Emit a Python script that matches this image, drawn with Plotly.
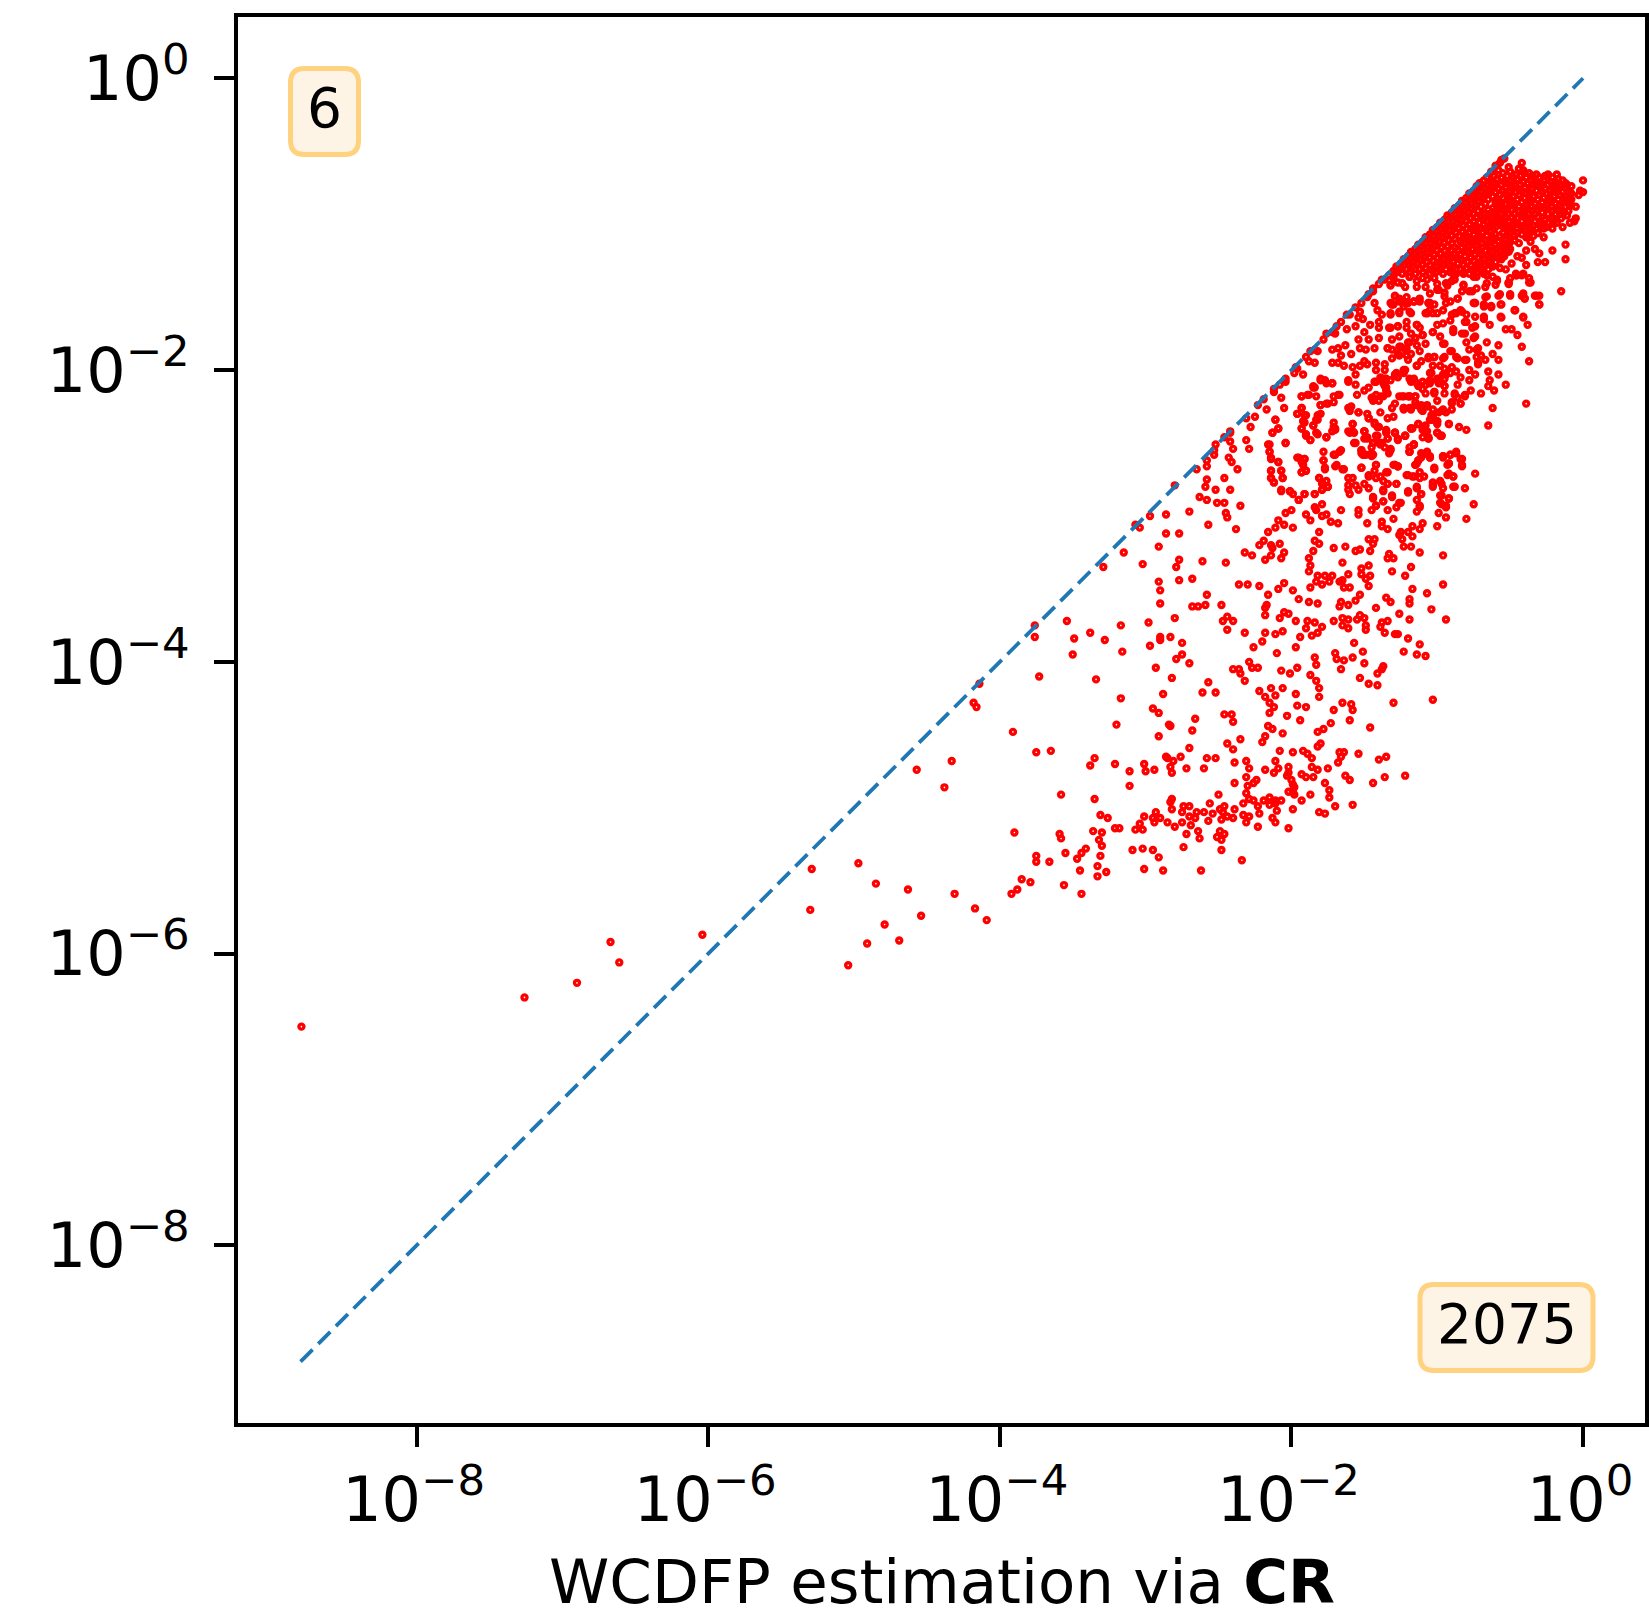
import plotly.graph_objects as go

# All point values are log10(x), log10(y).
left_tail = [(-8.79,-6.50),(-7.26,-6.30),(-6.90,-6.20),(-6.67,-5.92),(-6.61,-6.06),(-6.04,-5.87),
 (-5.29,-5.42),(-4.97,-5.38),(-4.85,-5.52),(-4.63,-5.56),(-4.31,-5.59),(-5.30,-5.70),(-4.54,-5.74),
 (-4.17,-5.69),(-4.09,-5.77),(-4.79,-5.80),(-4.91,-5.93),(-4.69,-5.91),(-5.04,-6.08),
 (-4.57,-4.74),(-4.33,-4.68),(-4.38,-4.86),(-4.14,-4.15),(-4.18,-4.28),(-4.16,-4.31)]

lower_band = [(-3.91,-4.48),(-3.75,-4.62),(-3.65,-4.61),(-3.35,-4.66),(-3.38,-4.71),(-3.21,-4.70),(-3.01,-4.70),
 (-3.00,-4.75),(-2.94,-4.74),(-3.11,-4.75),(-2.86,-4.65),(-2.85,-4.66),(-2.76,-4.65),(-2.58,-4.66),(-2.52,-4.66),(-2.83,-4.72),(-2.81,-4.68),
 (-2.82,-4.76),(-2.72,-4.73),(-2.60,-4.73),(-2.39,-4.69),(-2.31,-4.68),(-2.29,-4.73),(-2.11,-4.68),(-2.18,-4.74),
 (-2.12,-4.76),(-2.09,-4.73),(-2.02,-4.72),(-2.02,-4.76),(-2.03,-4.78),(-1.93,-4.77),(-1.90,-4.79),(-1.86,-4.72),
 (-1.82,-4.74),(-1.75,-4.73),(-1.85,-4.79),(-1.63,-4.78),(-1.60,-4.81),(-1.36,-4.79),(-1.22,-4.78),(-1.44,-4.83),
 (-2.31,-4.79),(-2.24,-4.81),(-2.39,-4.83),(-2.26,-4.83),(-2.30,-4.85),(-2.00,-4.81),(-1.99,-4.84),(-1.77,-4.83),
 (-1.74,-4.88),(-3.11,-4.85),(-3.58,-4.91),(-2.50,-4.91),(-2.31,-4.90),(-2.02,-4.89),(-1.98,-4.86),(-1.99,-4.89),
 (-1.87,-4.91),(-1.74,-4.93),(-3.35,-4.94),(-2.82,-4.94),(-2.83,-4.96),(-2.29,-4.94),(-2.26,-4.95),(-2.33,-4.97),
 (-2.19,-4.95),(-2.15,-4.93),(-2.11,-4.95),(-2.07,-4.95),(-1.98,-4.91),(-1.93,-4.95),(-2.56,-4.97),(-2.74,-4.99),
 (-2.70,-4.99),(-2.82,-5.01),(-2.60,-5.03),(-2.46,-4.99),(-2.49,-5.01),(-2.39,-5.01),(-2.23,-4.99),(-2.15,-4.98),
 (-2.11,-4.97),(-2.10,-5.02),(-1.99,-5.01),(-1.58,-4.98),(-1.70,-4.99),(-1.81,-5.03),(-1.77,-5.04),(-2.93,-5.03),
 (-3.01,-5.06),(-2.90,-5.07),(-2.95,-5.07),(-2.75,-5.03),(-2.65,-5.03),(-2.70,-5.06),(-2.66,-5.07),(-2.54,-5.04),
 (-2.47,-5.03),(-2.44,-5.06),(-2.40,-5.07),(-2.33,-5.05),(-2.29,-5.06),(-2.22,-5.04),(-3.31,-5.05),(-3.26,-5.07),
 (-2.75,-5.10),(-2.85,-5.10),(-2.94,-5.10),(-3.04,-5.11),(-2.57,-5.09),(-2.80,-5.13),(-2.69,-5.12),(-2.31,-5.10),
 (-2.13,-5.07),(-2.11,-5.10),(-2.48,-5.08),(-2.23,-5.13),(-2.02,-5.14),(-3.18,-5.14),(-3.21,-5.14),(-3.36,-5.16),
 (-3.30,-5.17),(-3.07,-5.15),(-3.02,-5.15),(-3.90,-5.17),(-3.59,-5.18),(-3.58,-5.21),(-2.64,-5.16),(-2.49,-5.16),
 (-2.46,-5.18),(-2.72,-5.18),(-2.63,-5.21),(-2.51,-5.20),(-2.48,-5.22),(-3.32,-5.22),(-3.30,-5.26),(-3.41,-5.28),
 (-3.44,-5.31),(-3.55,-5.31),(-3.47,-5.35),(-3.31,-5.33),(-3.09,-5.29),(-3.02,-5.28),(-2.95,-5.29),(-2.91,-5.34),
 (-2.74,-5.27),(-2.48,-5.29),(-2.34,-5.36),(-3.75,-5.33),(-3.75,-5.37),(-3.66,-5.37),(-3.33,-5.40),(-3.45,-5.43),
 (-3.27,-5.44),(-3.33,-5.47),(-3.01,-5.42),(-2.88,-5.43),(-2.62,-5.43),(-3.85,-5.49),(-3.79,-5.51),(-3.56,-5.53),
 (-3.88,-5.56),(-3.92,-5.59),(-3.44,-5.59)]

central_cloud = [(-2.58,-2.62),(-2.53,-2.58),(-2.43,-2.60),(-2.41,-2.63),(-2.37,-2.68),(-2.65,-2.68),(-2.58,-2.66),
 (-2.15,-2.56),(-2.14,-2.61),(-2.09,-2.63),(-1.96,-2.60),(-1.91,-2.61),(-1.93,-2.63),(-1.78,-2.62),(-1.71,-2.58),
 (-1.67,-2.56),(-1.77,-2.68),(-1.70,-2.66),(-1.65,-2.68),(-1.52,-2.67),(-1.42,-2.65),(-1.52,-2.57),(-1.49,-2.58),
 (-1.44,-2.58),(-1.33,-2.57),(-1.19,-2.56),(-1.07,-2.57),(-1.11,-2.60),(-1.05,-2.60),(-0.96,-2.60),(-0.91,-2.58),
 (-0.87,-2.57),(-0.83,-2.61),(-0.93,-2.65),(-0.83,-2.66),(-1.15,-2.65),(-1.30,-2.65),(-1.27,-2.66),(-1.34,-2.70),
 (-1.02,-2.68),(-1.13,-2.62),(-2.58,-2.75),(-2.46,-2.74),(-2.59,-2.80),(-2.52,-2.82),(-2.42,-2.82),(-2.80,-2.79),
 (-2.14,-2.69),(-2.07,-2.69),(-2.14,-2.74),(-2.06,-2.74),(-2.12,-2.77),(-2.07,-2.83),(-2.01,-2.83),(-1.99,-2.85),
 (-1.91,-2.85),(-1.84,-2.85),(-1.90,-2.69),(-1.93,-2.70),(-1.81,-2.74),(-1.79,-2.77),(-1.75,-2.80),(-1.79,-2.82),
 (-1.76,-2.76),(-1.61,-2.74),(-1.58,-2.74),(-1.61,-2.79),(-1.56,-2.79),(-1.60,-2.85),(-1.61,-2.82),(-1.54,-2.82),
 (-1.50,-2.78),(-1.47,-2.81),(-1.47,-2.73),(-1.42,-2.74),(-1.37,-2.76),(-1.34,-2.78),(-1.28,-2.78),(-1.37,-2.83),
 (-1.20,-2.84),(-1.21,-2.72),(-1.17,-2.73),(-1.12,-2.74),(-1.09,-2.73),(-1.14,-2.81),(-1.11,-2.85),(-1.03,-2.77),
 (-0.98,-2.76),(-1.03,-2.80),(-0.96,-2.81),(-0.93,-2.72),(-0.89,-2.73),(-0.88,-2.80),(-0.81,-2.81),(-0.74,-2.71),
 (-2.63,-2.87),(-2.58,-2.89),(-2.51,-2.91),(-2.46,-2.91),(-2.35,-2.93),(-2.70,-2.97),(-2.86,-2.99),(-2.97,-3.00),
 (-2.45,-2.98),(-2.44,-3.01),(-1.95,-2.89),(-1.84,-2.94),(-1.79,-2.92),(-1.83,-2.96),(-2.04,-2.98),(-2.00,-2.96),
 (-1.90,-2.99),(-1.79,-3.00),(-1.76,-2.99),(-1.66,-2.96),(-1.54,-2.96),(-1.54,-2.99),(-1.45,-2.96),(-1.44,-2.88),
 (-1.42,-2.93),(-1.37,-2.90),(-1.31,-2.87),(-1.34,-2.96),(-1.28,-2.94),(-1.25,-2.91),(-1.14,-2.89),(-1.12,-2.94),
 (-1.14,-2.97),(-0.97,-2.86),(-0.92,-2.88),(-0.97,-2.92),(-0.94,-2.94),(-0.99,-2.98),(-0.94,-3.01),(-0.75,-2.92),
 (-0.80,-3.02),(-3.07,-3.06),(-3.04,-3.08),(-2.57,-3.06),(-2.38,-3.09),(-2.09,-3.03),(-2.11,-3.08),(-2.05,-3.06),
 (-1.99,-3.08),(-2.16,-3.11),(-1.87,-3.03),(-1.73,-3.04),(-1.68,-3.05),(-1.48,-3.05),(-1.38,-3.04),(-1.38,-3.07),
 (-1.30,-3.02),(-1.34,-3.09),(-1.26,-3.13),(-1.25,-3.11),(-1.20,-3.11),(-1.17,-3.07),(-1.12,-3.09),(-1.10,-3.05),
 (-1.00,-3.07),(-1.17,-3.14),(-2.86,-3.12),(-2.77,-3.12),(-1.81,-3.11),(-2.19,-3.17),(-2.22,-3.20),(-2.14,-3.20),
 (-2.08,-3.19),(-2.13,-3.22),(-1.84,-3.17),(-1.81,-3.19),(-1.85,-3.24),(-1.71,-3.22),(-1.63,-3.21),(-1.56,-3.24),
 (-1.53,-3.23),(-1.46,-3.24),(-1.47,-3.16),(-1.43,-3.16),(-1.44,-3.19),(-1.24,-3.16),(-1.23,-3.21),(-1.18,-3.21),
 (-2.91,-3.21),(-3.15,-3.25),(-3.29,-3.35),(-3.02,-3.33),(-2.77,-3.30),(-2.79,-3.35),(-2.61,-3.31),(-2.45,-3.32),
 (-2.32,-3.25),(-2.27,-3.27),(-2.18,-3.30),(-2.14,-3.27),(-2.07,-3.29),(-2.05,-3.25),(-1.88,-3.29),(-1.87,-3.34),
 (-1.88,-3.38),(-1.65,-3.32),(-1.34,-3.29),(-1.33,-3.26),(-1.30,-3.29),(-1.12,-3.25),(-0.96,-3.27),(-1.52,-3.36),
 (-1.47,-3.34),(-1.52,-3.40),(-1.49,-3.43),(-1.46,-3.41),(-1.31,-3.38),(-1.22,-3.41),(-1.18,-3.35),(-1.82,-3.41),
 (-1.77,-3.41),(-1.72,-3.41),(-1.61,-3.40),(-1.83,-3.45),(-1.74,-3.45),(-1.67,-3.45),(-1.65,-3.44),(-2.91,-3.45),
 (-2.77,-3.44),(-2.68,-3.43),(-2.90,-3.51),(-2.90,-3.60),(-2.58,-3.54),(-2.36,-3.47),(-2.30,-3.47),(-2.22,-3.48),
 (-2.09,-3.50),(-2.05,-3.46),(-1.99,-3.51),(-2.16,-3.54),(-1.95,-3.57),(-1.88,-3.59),(-1.82,-3.60),(-1.79,-3.47),
 (-1.87,-3.49),(-1.64,-3.49),(-1.60,-3.49),(-1.47,-3.48),(-1.17,-3.50),(-0.96,-3.47),(-1.07,-3.53),(-1.35,-3.56),
 (-1.32,-3.59),(-1.19,-3.57),(-1.19,-3.60),(-1.53,-3.54),(-1.56,-3.58),(-1.66,-3.59),(-1.61,-3.61),(-1.67,-3.62),
 (-2.48,-3.61),(-2.68,-3.62),(-2.64,-3.62),(-2.59,-3.61),(-2.17,-3.61),(-2.18,-3.63),(-1.42,-3.63),(-1.04,-3.64),
 (-2.05,-3.66),(-2.02,-3.67),(-2.18,-3.68),(-2.08,-3.70),(-1.53,-3.68),(-1.50,-3.70),(-1.65,-3.70),(-1.61,-3.71),
 (-1.26,-3.67),(-1.19,-3.71),(-0.94,-3.71),(-2.80,-3.70),(-2.98,-3.73),(-3.54,-3.72),(-3.76,-3.75),(-2.47,-3.72),
 (-2.44,-3.69),(-2.40,-3.72),(-1.97,-3.72),(-1.89,-3.72),(-1.84,-3.73),(-1.71,-3.72),(-1.55,-3.71),(-1.34,-3.72),
 (-3.17,-3.75),(-3.76,-3.83),(-3.49,-3.84),(-3.38,-3.80),(-3.28,-3.85),(-2.90,-3.83),(-2.90,-3.85),(-2.83,-3.83),
 (-2.75,-3.87),(-2.97,-3.89),(-3.16,-3.93),(-3.50,-3.95),(-2.32,-3.80),(-2.44,-3.78),(-2.18,-3.80),(-2.11,-3.81),
 (-2.06,-3.79),(-1.90,-3.77),(-1.79,-3.76),(-1.82,-3.80),(-1.86,-3.82),(-1.94,-3.83),(-1.65,-3.75),(-1.61,-3.77),
 (-1.49,-3.75),(-1.49,-3.78),(-1.38,-3.73),(-1.39,-3.76),(-1.36,-3.80),(-1.29,-3.81),(-1.27,-3.81),(-1.20,-3.84),
 (-1.12,-3.88),(-2.20,-3.86),(-2.26,-3.90),(-2.10,-3.94),(-1.97,-3.90),(-1.57,-3.87),(-1.51,-3.93),(-1.70,-3.94),
 (-1.23,-3.93),(-1.14,-3.95),(-1.08,-3.96),(-2.75,-3.95),(-2.79,-3.98),(-2.93,-4.04),(-2.70,-4.01),(-3.73,-4.10),
 (-3.34,-4.12),(-2.82,-4.11),(-2.40,-4.05),(-2.36,-4.05),(-2.35,-4.08),(-2.32,-4.13),(-2.29,-4.00),(-2.27,-4.04),
 (-2.23,-4.04),(-2.07,-4.06),(-2.01,-4.08),(-1.96,-4.04),(-1.84,-3.97),(-1.83,-4.02),(-1.87,-4.09),(-1.83,-4.13),
 (-1.81,-4.18),(-1.69,-3.98),(-1.64,-3.99),(-1.58,-3.97),(-1.66,-4.05),(-1.50,-4.01),(-1.37,-4.03),(-1.38,-4.05),
 (-1.41,-4.08),(-1.53,-4.11),(-1.47,-4.15),(-1.41,-4.16),(-2.57,-4.14),(-2.61,-4.21),(-2.52,-4.21),(-2.88,-4.22),
 (-2.22,-4.20),(-2.14,-4.18),(-2.06,-4.18),(-1.97,-4.22),(-2.18,-4.24),(-2.11,-4.23),(-1.81,-4.24),(-3.17,-4.25),
 (-2.15,-4.28),(-2.12,-4.31),(-2.15,-4.35),(-1.96,-4.30),(-1.90,-4.31),(-1.65,-4.28),(-1.59,-4.29),(-1.58,-4.33),
 (-1.71,-4.33),(-1.30,-4.28),(-1.03,-4.26),(-2.95,-4.32),(-2.91,-4.35),(-2.46,-4.36),(-2.41,-4.36),(-2.40,-4.41),
 (-2.03,-4.37),(-1.94,-4.40),(-2.66,-4.39),(-2.84,-4.43),(-2.83,-4.44),(-3.20,-4.43),(-2.91,-4.51),(-2.68,-4.47),
 (-1.60,-4.40),(-1.73,-4.42),(-1.78,-4.46),(-1.82,-4.48),(-1.46,-4.45),(-2.16,-4.44),(-2.13,-4.46),(-2.06,-4.49),
 (-2.18,-4.51),(-2.20,-4.55),(-2.35,-4.53),(-2.44,-4.56),(-2.40,-4.60),(-2.70,-4.59),(-1.80,-4.56),(-1.82,-4.58),
 (-2.08,-4.61),(-1.99,-4.62),(-1.92,-4.61),(-1.89,-4.63),(-1.86,-4.66),(-1.67,-4.62),(-1.64,-4.62),(-1.54,-4.63),
 (-1.66,-4.65),(-1.68,-4.69),(-1.35,-4.65),(-1.40,-4.67)]

upper_cloud = [(-2.42,-2.42),(-2.46,-2.46),(-2.42,-2.49),(-2.52,-2.51),(-2.40,-2.54),(-2.31,-2.48),(-2.29,-2.54),
 (-2.16,-2.51),(-2.04,-2.50),(-2.28,-2.39),(-2.25,-2.32),(-2.17,-2.27),(-2.07,-2.19),(-2.05,-2.26),(-2.11,-2.34),
 (-2.09,-2.40),(-2.13,-2.43),(-2.23,-2.24),(-2.12,-2.15),(-2.08,-2.10),(-2.04,-2.08),(-1.93,-2.18),(-1.89,-2.17),
 (-1.83,-2.18),(-1.80,-2.24),(-1.76,-2.23),(-1.71,-2.18),(-1.67,-2.17),(-1.93,-2.26),(-1.96,-2.30),(-1.91,-2.31),
 (-1.91,-2.36),(-1.93,-2.40),(-1.85,-2.38),(-1.82,-2.34),(-1.80,-2.30),(-1.90,-2.44),(-1.87,-2.48),(-1.83,-2.43),
 (-1.76,-2.46),(-1.71,-2.36),(-1.70,-2.40),(-1.72,-2.42),(-1.60,-2.43),(-1.58,-2.37),(-1.57,-2.43),(-1.50,-2.42),
 (-1.48,-2.47),(-1.57,-2.50),(-1.59,-2.25),(-1.60,-2.28),(-1.54,-2.29),(-1.48,-2.30),(-1.47,-2.33),(-1.43,-2.36),
 (-1.41,-2.39),(-1.41,-2.45),(-1.35,-2.43),(-1.34,-2.47),(-1.29,-2.43),(-1.27,-2.47),(-1.22,-2.45),(-1.18,-2.40),
 (-1.13,-2.37),(-1.08,-2.38),(-1.08,-2.43),(-1.06,-2.47),(-1.00,-2.43),(-0.97,-2.45),(-0.92,-2.37),(-0.85,-2.39),
 (-0.80,-2.41),(-0.65,-2.38),(-1.44,-2.50),(-1.39,-2.51),(-1.16,-2.51),(-1.39,-2.29),(-1.34,-2.33),(-1.30,-2.32),
 (-1.04,-2.34),(-1.00,-2.35),(-1.03,-2.31),(-1.03,-2.27),(-1.10,-2.28),(-1.18,-2.27),(-1.23,-2.27),(-1.31,-2.26),
 (-1.29,-2.23),(-1.23,-2.18),(-1.19,-2.18),(-1.15,-2.18),(-1.14,-2.24),(-1.07,-2.25),(-1.02,-2.16),(-0.95,-2.16),
 (-0.96,-2.28),(-0.90,-2.27),(-0.90,-2.22),(-0.84,-2.23),(-0.88,-2.16),(-0.86,-2.19),(-0.81,-2.17),(-0.77,-2.14),
 (-0.70,-2.16),(-0.62,-2.26),(-0.39,-2.23),(-1.72,-1.86),(-1.68,-1.85),(-1.63,-1.83),(-1.59,-1.89),(-1.66,-1.90),
 (-1.53,-1.85),(-1.49,-1.86),(-1.54,-1.79),(-1.47,-1.79),(-1.43,-1.85),(-1.40,-1.78),(-1.72,-1.95),(-1.68,-1.95),
 (-1.64,-1.97),(-1.58,-1.98),(-1.53,-1.97),(-1.50,-1.94),(-1.48,-1.96),(-1.42,-1.95),(-1.36,-1.96),(-1.42,-2.00),
 (-1.36,-2.00),(-1.56,-2.03),(-1.61,-2.07),(-1.56,-2.10),(-1.47,-2.12),(-1.50,-2.14),(-1.55,-2.17),(-1.45,-2.19),
 (-1.42,-2.17),(-1.36,-2.09),(-1.35,-2.12),(-1.43,-2.08),(-1.39,-2.05),(-1.36,-2.06),(-1.29,-2.04),(-1.27,-2.05),
 (-1.23,-2.02),(-1.22,-2.00),(-1.16,-2.06),(-1.08,-2.10),(-1.18,-2.08),(-1.04,-2.02),(-0.99,-2.06),(-0.95,-2.06),
 (-0.95,-2.11),(-1.02,-2.15),(-0.86,-2.10),(-0.84,-2.05),(-0.78,-2.00),(-0.74,-2.03),(-0.78,-2.07),(-0.65,-2.01),
 (-0.64,-2.07),(-0.58,-2.03),(-0.65,-2.11),(-0.61,-2.14),(-0.53,-2.10),(-0.58,-1.93),(-0.62,-1.89),(-0.67,-1.93),
 (-0.72,-1.96),(-0.73,-1.91),(-0.78,-1.86),(-0.72,-1.85),(-0.66,-1.81),(-0.58,-1.83),(-0.42,-1.84),(-0.37,-1.94),
 (-0.75,-1.78),(-1.31,-1.92),(-1.25,-1.84),(-1.21,-1.90),(-1.26,-1.90),(-1.20,-1.93),(-1.14,-1.97),(-1.06,-1.92),
 (-1.02,-1.91),(-0.95,-1.91),(-0.90,-1.87),(-0.86,-1.92),(-0.80,-1.93),(-1.34,-1.85),(-1.31,-1.79),(-1.21,-1.85),
 (-1.19,-1.81),(-1.15,-1.78),(-1.10,-1.76),(-1.03,-1.74),(-0.96,-1.82),(-0.89,-1.72),(-0.81,-1.75),(-1.32,-1.54),
 (-1.29,-1.49),(-1.21,-1.50),(-1.31,-1.55),(-1.16,-1.53),(-1.12,-1.51),(-1.06,-1.54),(-1.00,-1.45),(-0.95,-1.47),
 (-0.86,-1.51),(-0.74,-1.54),(-0.68,-1.55),(-0.63,-1.56),(-0.56,-1.55),(-0.47,-1.59),(-0.41,-1.64),(-0.38,-1.69),
 (-0.56,-1.64),(-0.53,-1.72),(-0.49,-1.72),(-0.45,-1.76),(-0.30,-1.55),(-0.32,-1.49),(-0.42,-1.49),(-0.50,-1.49),
 (-0.58,-1.49),(-0.67,-1.50),(-0.83,-1.46),(-1.53,-1.60),(-1.51,-1.65),(-1.54,-1.64),(-1.43,-1.54),(-1.41,-1.59),
 (-1.38,-1.62),(-1.46,-1.69),(-1.40,-1.67),(-1.40,-1.71),(-1.33,-1.71),(-1.27,-1.70),(-1.21,-1.67),(-1.32,-1.62),
 (-1.26,-1.61),(-1.19,-1.60),(-1.07,-1.61),(-1.00,-1.61),(-0.90,-1.62),(-0.83,-1.60),(-0.80,-1.67),(-0.74,-1.70),
 (-0.68,-1.65),(-0.64,-1.69),(-1.14,-1.69),(-1.50,-1.74),(-1.56,-1.70),(-1.62,-1.72),(-1.69,-1.70),(-1.76,-1.75),
 (-1.70,-1.75),(-1.26,-1.77),(-0.15,-1.46),(-0.40,-1.51),(-1.32,-1.42),(-1.27,-1.40),(-1.22,-1.43),(-1.14,-1.43),
 (-1.07,-1.38),(-1.00,-1.41),(-0.93,-1.42),(-0.88,-1.38),(-0.82,-1.42),(-0.76,-1.46),(-0.67,-1.43),(-0.59,-1.39),
 (-0.51,-1.41),(-0.46,-1.35),(-0.42,-1.35),(-0.37,-1.40),(-1.38,-1.38),(-1.44,-1.44),(-1.48,-1.50),(-1.19,-1.36),
 (-1.30,-1.35),(-0.62,-1.36),(-0.73,-1.36),(-1.62,-1.62),(-1.87,-1.87),(-1.82,-1.87),(-1.96,-1.99),(-1.92,-2.03),
 (-1.88,-1.94),(-1.84,-1.95),(-1.85,-2.11),(-1.84,-2.12),(-1.80,-2.07),(-1.77,-2.07),(-1.72,-2.09),(-1.98,-2.02)]

mid_detail = [(-1.14,-1.69),(-1.12,-1.71),(-1.18,-1.75),(-1.21,-1.71),(-1.27,-1.70),(-1.32,-1.71),(-1.15,-1.78),(-1.10,-1.76),
 (-1.20,-1.81),(-1.14,-1.83),(-1.08,-1.82),(-1.22,-1.86),(-1.18,-1.89),(-1.12,-1.87),(-1.27,-1.89),(-1.31,-1.86),(-1.34,-1.85),
 (-1.26,-1.84),(-1.03,-1.74),(-0.98,-1.77),(-0.95,-1.82),(-0.89,-1.74),(-1.00,-1.69),(-0.96,-1.68),(-0.91,-1.66),(-1.03,-1.61),
 (-1.07,-1.61),(-0.96,-1.59),(-0.87,-1.61),(-0.81,-1.67),(-0.76,-1.71),(-0.83,-1.75),(-0.80,-1.81),(-0.74,-1.77),(-0.73,-1.86),
 (-0.70,-1.90),(-0.72,-1.95),(-0.87,-1.91),(-0.81,-1.93),(-0.91,-1.87),(-0.96,-1.92),(-1.02,-1.91),(-1.06,-1.91),(-1.11,-1.94),
 (-1.14,-1.97),(-1.03,-1.97),(-0.95,-1.99),(-0.90,-1.98),(-0.87,-2.01),(-0.98,-1.97),(-1.05,-2.02),(-1.00,-2.07),(-0.94,-2.03),
 (-0.95,-2.11),(-0.99,-2.09),(-1.05,-2.07),(-1.10,-2.08),(-1.13,-2.11),(-1.18,-2.07),(-1.23,-2.01),(-1.29,-2.03),(-1.35,-2.06),
 (-1.38,-2.06),(-1.42,-2.08),(-1.36,-2.11),(-1.34,-2.16),(-1.37,-2.18),(-1.40,-2.21),(-1.44,-2.19),(-1.24,-2.18),(-1.19,-2.18),
 (-1.15,-2.18),(-1.08,-2.16),(-1.02,-2.15),(-1.00,-2.21),(-0.88,-2.17),(-0.81,-2.18),(-0.90,-2.23),(-0.84,-2.23),(-1.23,-2.26),
 (-1.18,-2.26),(-1.12,-2.25),(-1.07,-2.24),(-0.97,-2.28),(-0.94,-2.29),(-1.03,-2.31),(-1.05,-2.34),(-1.00,-2.35),(-1.13,-2.37),
 (-1.10,-2.39),(-1.07,-2.42),(-1.10,-2.46),(-1.06,-2.47),(-1.00,-2.43),(-0.97,-2.45),(-1.18,-2.40),(-1.22,-2.45),(-1.29,-2.43),
 (-1.27,-2.48),(-1.35,-2.42),(-1.34,-2.47),(-1.38,-2.50),(-1.44,-2.50),(-1.42,-2.45),(-1.32,-2.54),(-1.50,-2.42),(-1.48,-2.46),
 (-1.52,-2.55),(-1.51,-2.58),(-1.45,-2.57),(-1.16,-2.51),(-1.19,-2.56),(-1.11,-2.57),(-1.07,-2.56),(-1.05,-2.60),(-0.96,-2.59),
 (-0.91,-2.58),(-0.87,-2.56),(-0.83,-2.65),(-1.13,-2.62),(-1.15,-2.65),(-0.92,-2.64),(-0.84,-2.61),(-1.29,-2.65),(-1.27,-2.66),
 (-1.42,-2.65),(-1.52,-2.67),(-1.31,-1.55),(-1.26,-1.53),(-1.20,-1.54),(-1.12,-1.53),(-1.05,-1.54),(-0.94,-1.54),(-0.75,-1.54),
 (-0.63,-1.57),(-1.44,-2.21),(-1.39,-2.18),(-1.35,-2.14),(-1.37,-2.09),(-1.32,-2.07),(-1.28,-2.02),(-1.23,-2.00),(-1.19,-2.06),
 (-1.14,-2.09),(-1.10,-2.13),(-1.05,-2.09),(-1.00,-2.06),(-0.96,-2.03),(-0.91,-2.02),(-1.26,-2.18),(-1.20,-2.18),(-1.15,-2.22),
 (-1.11,-2.24),(-1.23,-2.26),(-1.19,-2.26),(-1.11,-2.27),(-1.04,-2.31),(-0.99,-2.29),(-0.96,-2.27),(-1.04,-2.34),(-1.00,-2.37),
 (-0.92,-2.37),(-1.35,-2.41),(-1.29,-2.43),(-1.22,-2.45),(-1.17,-2.40),(-1.10,-2.41),(-1.06,-2.46),(-0.98,-2.45),(-1.40,-2.50),
 (-1.36,-2.53),(-1.32,-2.55),(-1.45,-2.53),(-1.52,-2.55),(-1.50,-2.58),(-1.45,-2.59),(-1.19,-2.53),(-1.16,-2.51),(-1.19,-2.56),
 (-1.29,-2.65),(-1.27,-2.66),(-1.35,-2.70),(-1.47,-2.72),(-1.43,-2.69),(-1.39,-2.73),(-1.34,-2.78),(-1.28,-2.78),(-1.37,-2.82),
 (-1.31,-2.86),(-1.44,-2.87),(-1.26,-2.91),(-1.37,-2.90),(-1.42,-2.93),(-1.14,-2.64),(-1.10,-2.58),(-1.05,-2.59),(-0.96,-2.59),
 (-0.92,-2.64),(-1.02,-2.67),(-1.20,-2.72),(-1.16,-2.73),(-1.12,-2.70),(-0.92,-2.71),(-0.89,-2.73),(-1.03,-2.79),(-0.97,-2.78),
 (-0.89,-2.80),(-1.14,-2.80),(-1.20,-2.83),(-1.11,-2.85),(-0.98,-2.86),(-0.92,-2.88),(-0.98,-2.91),(-1.12,-2.93),(-0.94,-2.93),
 (-1.56,-2.50),(-1.71,-2.39),(-1.70,-2.41),(-1.80,-2.24),(-1.85,-2.12),(-1.61,-2.08),(-1.61,-2.26),(-1.54,-2.29),(-1.47,-2.33),
 (-1.43,-2.37),(-1.40,-2.39),(-1.50,-2.42),(-1.58,-2.37),(-1.61,-2.42),(-1.58,-2.42),(-1.50,-2.47),(-1.80,-2.06),(-1.76,-2.09),
 (-1.72,-2.09),(-1.93,-2.18),(-1.88,-2.17),(-1.68,-2.17),(-1.71,-2.22),(-1.75,-2.23),(-1.82,-2.31),(-1.83,-2.34),(-1.85,-2.38),
 (-1.90,-2.45),(-1.87,-2.48),(-1.82,-2.44),(-1.76,-2.46),(-1.93,-2.40),(-1.92,-2.35),(-1.90,-2.31),(-1.96,-2.30),(-1.93,-2.26),
 (-2.11,-2.34),(-2.09,-2.40),(-2.13,-2.43),(-2.04,-2.50),(-2.15,-2.51),(-2.15,-2.56),(-2.14,-2.60),(-2.09,-2.63),(-1.95,-2.60),
 (-1.91,-2.61),(-1.92,-2.65),(-1.90,-2.69),(-1.93,-2.70),(-1.78,-2.56),(-1.78,-2.62),(-1.77,-2.67),(-1.70,-2.58),(-1.66,-2.55),
 (-1.69,-2.65),(-1.64,-2.68),(-2.14,-2.69),(-2.07,-2.69),(-2.14,-2.74),(-2.06,-2.74),(-2.12,-2.77),(-2.07,-2.82),(-2.01,-2.83),
 (-1.95,-2.89),(-1.91,-2.85),(-1.84,-2.85),(-1.79,-2.82),(-1.75,-2.80),(-1.81,-2.74),(-1.79,-2.78)]

band_below_core = [(-1.32,-1.415),(-1.30,-1.37),(-1.24,-1.405),(-1.19,-1.36),(-1.14,-1.39),(-1.10,-1.37),(-1.08,-1.43),(-1.02,-1.37),
 (-0.94,-1.405),(-0.99,-1.45),(-1.05,-1.475),(-1.29,-1.495),(-1.26,-1.51),(-1.22,-1.54),(-1.16,-1.53),(-1.06,-1.54),(-1.08,-1.61),
 (-1.18,-1.61),(-1.30,-1.55),(-1.23,-1.565),(-1.32,-1.61),(-1.26,-1.60),(-1.05,-1.59),(-1.02,-1.55),(-0.95,-1.495),(-0.91,-1.53),
 (-0.86,-1.51),(-0.84,-1.59),(-0.88,-1.61),(-0.80,-1.62),(-0.78,-1.46),(-0.73,-1.44),(-0.75,-1.36),(-0.82,-1.34),(-0.89,-1.34),
 (-0.90,-1.39),(-0.82,-1.415),(-0.66,-1.35),(-0.66,-1.405),(-0.60,-1.415),(-0.57,-1.48),(-0.50,-1.48),(-0.41,-1.475),(-0.40,-1.51),
 (-0.33,-1.49),(-0.30,-1.49),(-0.30,-1.55),(-0.565,-1.55),(-0.63,-1.565),(-0.68,-1.565),(-0.745,-1.54),(-0.66,-1.495),(-0.465,-1.59),
 (-0.41,-1.635),(-0.565,-1.635),(-0.74,-1.635),(-0.68,-1.635),(-0.59,-1.38),(-0.51,-1.405),(-0.455,-1.35)]

right_edge = [(0.00,-0.70),(0.00,-0.78),(-0.02,-0.77),(-0.03,-0.80),(-0.42,-0.58),(-0.51,-0.61),(-0.44,-0.62),
 (-0.57,-0.58),(-0.60,-0.60),(-0.40,-0.65),(-0.32,-0.66),(-0.34,-0.68),(-0.24,-0.66),(-0.18,-0.66),(-0.17,-0.69),
 (-0.11,-0.73),(-0.08,-0.79),(-0.05,-0.88),(-0.10,-0.91),(-0.05,-0.96),(-0.06,-0.98),(-0.09,-0.99),(-0.15,-0.96),
 (-0.14,-1.02),(-0.21,-1.03),(-0.27,-1.09),(-0.12,-1.14),(-0.12,-1.24),(-0.21,-1.18),(-0.26,-1.26),(-0.31,-1.26),
 (-0.30,-1.20),(-0.33,-1.17),(-0.39,-1.18),(-0.45,-1.22),(-0.49,-1.27),(-0.42,-1.23),(-0.39,-1.28),(-0.44,-1.13),
 (-0.39,-1.09),(-0.36,-1.12),(-0.47,-1.11),(-0.37,-1.37),(-0.36,-1.40),(-0.41,-1.34),(-0.46,-1.34),(-0.50,-1.37),
 (-0.51,-1.40),(-0.57,-1.30),(-0.53,-1.31)]

dense_core = [(-0.56,-0.56),(-0.54,-0.55),(-0.63,-0.64),(-0.58,-0.63),(-0.55,-0.65),(-0.50,-0.64),(-0.46,-0.66),(-0.41,-0.63),(-0.37,-0.65),
 (-0.71,-0.72),(-0.68,-0.70),(-0.63,-0.71),(-0.59,-0.69),(-0.54,-0.71),(-0.50,-0.70),(-0.45,-0.69),(-0.41,-0.71),(-0.36,-0.70),(-0.32,-0.72),(-0.27,-0.70),(-0.22,-0.71),(-0.18,-0.72),(-0.14,-0.70),
 (-0.75,-0.77),(-0.72,-0.75),(-0.67,-0.76),(-0.63,-0.74),(-0.58,-0.76),(-0.53,-0.75),(-0.49,-0.74),(-0.44,-0.76),(-0.40,-0.75),(-0.35,-0.76),(-0.30,-0.74),(-0.26,-0.76),(-0.21,-0.75),(-0.17,-0.76),(-0.12,-0.75),(-0.08,-0.74),
 (-0.80,-0.82),(-0.76,-0.80),(-0.71,-0.81),(-0.67,-0.79),(-0.62,-0.81),(-0.57,-0.80),(-0.53,-0.79),(-0.48,-0.81),(-0.44,-0.80),(-0.39,-0.79),(-0.34,-0.81),(-0.30,-0.80),(-0.25,-0.79),(-0.20,-0.81),(-0.16,-0.80),(-0.12,-0.81),(-0.08,-0.83),
 (-0.85,-0.87),(-0.81,-0.85),(-0.76,-0.86),(-0.72,-0.84),(-0.67,-0.86),(-0.60,-0.85),(-0.56,-0.86),(-0.51,-0.84),(-0.47,-0.86),(-0.42,-0.85),(-0.37,-0.84),(-0.33,-0.86),(-0.28,-0.85),(-0.23,-0.84),(-0.19,-0.86),(-0.14,-0.85),(-0.10,-0.86),
 (-0.90,-0.92),(-0.86,-0.90),(-0.81,-0.91),(-0.77,-0.89),(-0.72,-0.91),(-0.68,-0.93),(-0.60,-0.91),(-0.56,-0.88),(-0.49,-0.90),(-0.44,-0.91),(-0.40,-0.89),(-0.35,-0.91),(-0.31,-0.90),(-0.26,-0.89),(-0.21,-0.91),(-0.17,-0.90),(-0.13,-0.92),
 (-0.95,-0.97),(-0.91,-0.95),(-0.86,-0.96),(-0.82,-0.94),(-0.77,-0.96),(-0.73,-0.95),(-0.68,-0.97),(-0.63,-0.95),(-0.59,-0.97),(-0.54,-0.98),(-0.49,-0.95),(-0.45,-0.96),(-0.40,-0.94),(-0.36,-0.96),(-0.31,-0.95),(-0.26,-0.97),(-0.21,-0.96),(-0.18,-0.99),
 (-1.00,-1.02),(-0.96,-1.00),(-0.91,-1.01),(-0.87,-0.99),(-0.82,-1.01),(-0.78,-1.00),(-0.73,-1.02),(-0.68,-1.00),(-0.64,-1.02),(-0.52,-1.03),(-0.48,-1.00),(-0.43,-1.01),(-0.38,-0.99),(-0.34,-1.01),(-0.29,-1.00),(-0.25,-1.02),
 (-1.05,-1.07),(-1.01,-1.05),(-0.96,-1.06),(-0.92,-1.04),(-0.87,-1.06),(-0.83,-1.05),(-0.78,-1.06),(-0.73,-1.04),(-0.69,-1.06),(-0.64,-1.05),(-0.60,-1.07),(-0.55,-1.06),(-0.50,-1.05),(-0.45,-1.06),(-0.40,-1.04),(-0.35,-1.05),(-0.31,-1.06),
 (-1.10,-1.12),(-1.06,-1.10),(-1.01,-1.11),(-0.97,-1.09),(-0.92,-1.11),(-0.88,-1.10),(-0.76,-1.11),(-0.72,-1.09),(-0.67,-1.11),(-0.63,-1.10),(-0.58,-1.12),(-0.53,-1.10),(-0.50,-1.12),
 (-1.15,-1.17),(-1.11,-1.15),(-1.06,-1.16),(-1.02,-1.14),(-0.97,-1.16),(-0.93,-1.15),(-0.88,-1.16),(-0.83,-1.16),(-0.78,-1.15),(-0.73,-1.14),(-0.69,-1.16),(-0.64,-1.15),(-0.59,-1.17),(-0.54,-1.15),(-0.50,-1.17),
 (-1.20,-1.22),(-1.16,-1.20),(-1.11,-1.21),(-1.07,-1.19),(-1.02,-1.21),(-0.98,-1.20),(-0.93,-1.22),(-0.88,-1.20),(-0.84,-1.21),(-0.79,-1.19),(-0.74,-1.21),(-0.70,-1.20),(-0.65,-1.22),(-0.60,-1.20),(-0.55,-1.21),(-0.51,-1.19),
 (-1.25,-1.27),(-1.21,-1.25),(-1.16,-1.26),(-1.12,-1.24),(-1.07,-1.26),(-1.03,-1.25),(-0.98,-1.27),(-0.93,-1.25),(-0.89,-1.26),(-0.84,-1.24),(-0.79,-1.26),(-0.75,-1.25),(-0.70,-1.27),(-0.65,-1.25),(-0.60,-1.26),(-0.56,-1.24),
 (-1.30,-1.32),(-1.26,-1.30),(-1.21,-1.31),(-1.17,-1.29),(-1.12,-1.31),(-1.08,-1.30),(-1.03,-1.32),(-0.98,-1.30),(-0.94,-1.31),(-0.89,-1.29),(-0.84,-1.31),(-0.80,-1.30),(-0.75,-1.32),(-0.70,-1.30),(-0.65,-1.31),(-0.62,-1.29),
 (-1.33,-1.35),(-1.36,-1.38),(-1.40,-1.41),(-1.44,-1.46),(-1.47,-1.48),(-1.52,-1.54),(-1.56,-1.57),(-1.60,-1.62),(-1.66,-1.67),(-1.72,-1.74),(-1.78,-1.79),(-1.84,-1.86),(-1.90,-1.91),(-1.97,-1.98),(-2.04,-2.06),(-2.12,-2.13),(-2.19,-2.20),(-2.31,-2.33),(-2.42,-2.43),(-2.53,-2.55)]

dense_overlap = [(-0.66,-0.68),(-0.61,-0.67),(-0.56,-0.68),(-0.52,-0.67),(-0.48,-0.68),(-0.43,-0.67),(-0.39,-0.68),(-0.35,-0.67),(-0.30,-0.68),(-0.26,-0.67),(-0.21,-0.68),
 (-0.73,-0.74),(-0.70,-0.73),(-0.65,-0.73),(-0.61,-0.72),(-0.56,-0.73),(-0.52,-0.72),(-0.47,-0.73),(-0.43,-0.73),(-0.38,-0.72),(-0.34,-0.73),(-0.29,-0.72),(-0.24,-0.73),(-0.20,-0.73),(-0.16,-0.74),(-0.12,-0.72),
 (-0.78,-0.79),(-0.74,-0.78),(-0.69,-0.78),(-0.65,-0.77),(-0.60,-0.78),(-0.55,-0.77),(-0.51,-0.78),(-0.46,-0.78),(-0.42,-0.77),(-0.37,-0.78),(-0.32,-0.77),(-0.28,-0.78),(-0.23,-0.77),(-0.18,-0.78),(-0.14,-0.78),(-0.10,-0.78),
 (-0.83,-0.84),(-0.78,-0.83),(-0.74,-0.83),(-0.69,-0.82),(-0.65,-0.83),(-0.59,-0.83),(-0.55,-0.82),(-0.50,-0.83),(-0.45,-0.83),(-0.40,-0.82),(-0.36,-0.83),(-0.31,-0.83),(-0.27,-0.82),(-0.22,-0.83),(-0.17,-0.83),(-0.13,-0.83),(-0.09,-0.84),
 (-0.88,-0.89),(-0.83,-0.88),(-0.79,-0.88),(-0.74,-0.87),(-0.70,-0.88),(-0.58,-0.87),(-0.53,-0.86),(-0.49,-0.87),(-0.44,-0.88),(-0.39,-0.87),(-0.35,-0.88),(-0.30,-0.88),(-0.25,-0.87),(-0.21,-0.88),(-0.16,-0.88),(-0.12,-0.88),(-0.08,-0.87),
 (-0.93,-0.94),(-0.88,-0.93),(-0.84,-0.93),(-0.79,-0.92),(-0.75,-0.93),(-0.70,-0.94),(-0.64,-0.93),(-0.47,-0.93),(-0.42,-0.93),(-0.37,-0.93),(-0.33,-0.93),(-0.28,-0.92),(-0.24,-0.93),(-0.19,-0.93),(-0.15,-0.93),(-0.11,-0.94),
 (-0.98,-0.99),(-0.93,-0.98),(-0.89,-0.98),(-0.84,-0.97),(-0.80,-0.98),(-0.75,-0.98),(-0.71,-0.99),(-0.66,-0.98),(-0.61,-0.99),(-0.51,-0.98),(-0.47,-0.98),(-0.42,-0.98),(-0.38,-0.97),(-0.33,-0.98),(-0.29,-0.98),(-0.24,-0.99),(-0.20,-0.98),
 (-1.03,-1.04),(-0.98,-1.03),(-0.94,-1.03),(-0.89,-1.02),(-0.85,-1.03),(-0.80,-1.03),(-0.75,-1.04),(-0.71,-1.03),(-0.66,-1.04),(-0.50,-1.03),(-0.45,-1.03),(-0.41,-1.02),(-0.36,-1.03),(-0.32,-1.03),(-0.27,-1.03),
 (-1.08,-1.09),(-1.03,-1.08),(-0.99,-1.08),(-0.94,-1.07),(-0.90,-1.08),(-0.85,-1.08),(-0.80,-1.08),(-0.75,-1.07),(-0.71,-1.08),(-0.66,-1.08),(-0.62,-1.09),(-0.57,-1.08),(-0.52,-1.08),(-0.47,-1.08),(-0.42,-1.07),(-0.38,-1.08),(-0.34,-1.08),
 (-1.13,-1.14),(-1.08,-1.13),(-1.04,-1.13),(-0.99,-1.12),(-0.95,-1.13),(-0.90,-1.13),(-0.77,-1.13),(-0.74,-1.12),(-0.69,-1.13),(-0.65,-1.13),(-0.60,-1.14),(-0.55,-1.13),(-0.51,-1.14),
 (-1.18,-1.19),(-1.13,-1.18),(-1.09,-1.18),(-1.04,-1.17),(-1.00,-1.18),(-0.95,-1.18),(-0.90,-1.18),(-0.86,-1.18),(-0.81,-1.18),(-0.76,-1.17),(-0.71,-1.18),(-0.67,-1.18),(-0.62,-1.19),(-0.57,-1.18),(-0.53,-1.18),
 (-1.23,-1.24),(-1.18,-1.23),(-1.14,-1.23),(-1.09,-1.22),(-1.05,-1.23),(-1.00,-1.23),(-0.95,-1.24),(-0.91,-1.23),(-0.86,-1.23),(-0.81,-1.22),(-0.77,-1.23),(-0.72,-1.23),(-0.67,-1.24),(-0.63,-1.23),(-0.58,-1.23),(-0.54,-1.22),
 (-1.28,-1.29),(-1.23,-1.28),(-1.19,-1.28),(-1.14,-1.27),(-1.10,-1.28),(-1.05,-1.28),(-1.00,-1.29),(-0.96,-1.28),(-0.91,-1.28),(-0.86,-1.27),(-0.82,-1.28),(-0.77,-1.28),(-0.72,-1.29),(-0.68,-1.28),(-0.63,-1.28),
 (-1.28,-1.33),(-1.24,-1.34),(-1.19,-1.33),(-1.15,-1.34),(-1.10,-1.33),(-1.05,-1.34),(-1.01,-1.33),(-0.96,-1.34),(-0.91,-1.33),(-0.87,-1.34),(-0.82,-1.33),(-0.78,-1.34),(-0.73,-1.33),(-0.68,-1.34),
 (-0.62,-0.92),(-0.60,-0.94),(-0.58,-0.95),(-0.56,-0.93),(-0.52,-0.90),(-0.51,-0.93),(-0.54,-0.91),(-0.62,-0.89),(-0.58,-0.89),(-0.65,-0.90),(-0.53,-0.96),(-0.56,-1.01),(-0.60,-1.02),(-0.62,-1.01),(-0.57,-0.98),(-0.55,-1.00),(-0.80,-1.10),(-0.84,-1.12),(-0.82,-1.13)]

diagonal_x = [1.6e-9, 1.0]
tick_values = [1e-8, 1e-6, 1e-4, 1e-2, 1.0]
tick_labels = ["10<sup>\u22128</sup>", "10<sup>\u22126</sup>", "10<sup>\u22124</sup>", "10<sup>\u22122</sup>", "10<sup>0</sup>"]
corner_top_left = "6"
corner_bottom_right = "2075"
x_title = "WCDFP estimation via <b>CR</b>"

points = (left_tail + lower_band + central_cloud + upper_cloud + mid_detail + band_below_core
          + right_edge + dense_core + dense_overlap)
xs = [10 ** p[0] for p in points]
ys = [10 ** p[1] for p in points]

W, H = 1649, 1610
L, R, T, B = 238, 1645, 17, 1423
FONT = "DejaVu Sans"


def px(x):
    return (x - L) / (R - L)


def py(y):
    return (B - y) / (B - T)


def rounded_box(x0, y0, x1, y1, r=14):
    return (f"M {px(x0+r)} {py(y0)} L {px(x1-r)} {py(y0)} Q {px(x1)} {py(y0)} {px(x1)} {py(y0+r)} "
            f"L {px(x1)} {py(y1-r)} Q {px(x1)} {py(y1)} {px(x1-r)} {py(y1)} "
            f"L {px(x0+r)} {py(y1)} Q {px(x0)} {py(y1)} {px(x0)} {py(y1-r)} "
            f"L {px(x0)} {py(y0+r)} Q {px(x0)} {py(y0)} {px(x0+r)} {py(y0)} Z")


fig = go.Figure()
fig.add_trace(go.Scatter(x=xs, y=ys, mode="markers", showlegend=False,
                         marker=dict(symbol="circle-open", size=5, color="#ff0000", line=dict(width=3.4, color="#ff0000"))))
fig.add_trace(go.Scatter(x=diagonal_x, y=diagonal_x, mode="lines", showlegend=False,
                         line=dict(color="#1f77b4", width=3.8, dash="17px,8px")))

axis = dict(type="log", tickmode="array", tickvals=tick_values, ticktext=tick_labels,
            ticks="outside", ticklen=20, tickwidth=3.5, tickcolor="black",
            showline=True, linewidth=4, linecolor="black", mirror=True,
            showgrid=False, zeroline=False, tickfont=dict(family=FONT, size=62, color="black"))

fig.update_layout(
    width=W, height=H, autosize=False,
    margin=dict(l=L, r=W - R, t=T, b=H - B, pad=0, autoexpand=False),
    paper_bgcolor="white", plot_bgcolor="white",
    font=dict(family=FONT, color="black"),
    xaxis=dict(axis, range=[-9.225, 0.425], ticklabelshift=-3),
    yaxis=dict(axis, range=[-9.217, 0.42], ticklabelstandoff=12),
    shapes=[
        dict(type="path", xref="paper", yref="paper", path=rounded_box(290.5, 68.5, 358.5, 154.5),
             fillcolor="#fef4e6", line=dict(color="#ffd27f", width=5), layer="below"),
        dict(type="path", xref="paper", yref="paper", path=rounded_box(1420, 1284.5, 1593, 1370.5),
             fillcolor="#fef4e6", line=dict(color="#ffd27f", width=5), layer="below"),
    ],
    annotations=[
        dict(text=corner_top_left, xref="paper", yref="paper", x=px(324.5), y=py(107.5), showarrow=False,
             xanchor="center", yanchor="middle", font=dict(family=FONT, size=55, color="black")),
        dict(text=corner_bottom_right, xref="paper", yref="paper", x=px(1506.5), y=py(1323.5), showarrow=False,
             xanchor="center", yanchor="middle", font=dict(family=FONT, size=55, color="black")),
        dict(text=x_title, xref="paper", yref="paper", x=px(941.5), y=py(1581), showarrow=False,
             xanchor="center", yanchor="middle", font=dict(family=FONT, size=61, color="black")),
    ],
)

fig.write_html("out.html", post_script="document.body.style.margin='0';", config=dict(displayModeBar=False))
